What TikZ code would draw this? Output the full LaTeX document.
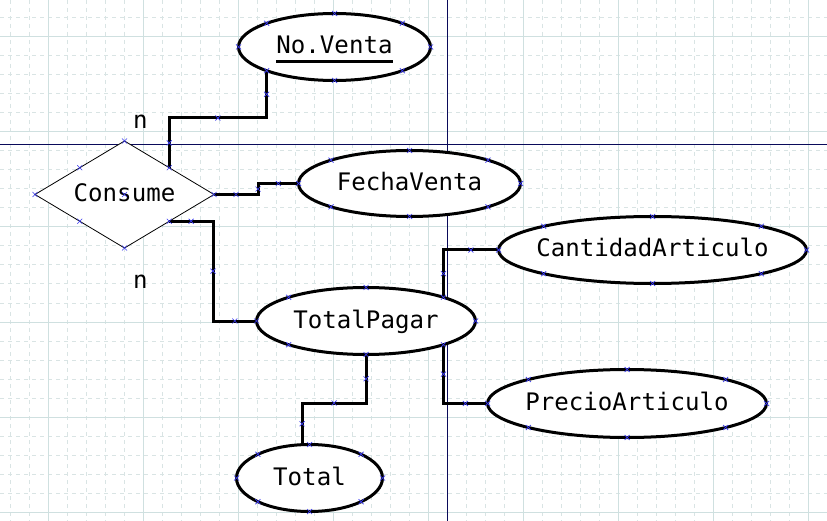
\documentclass[tikz,border=0pt]{standalone}
\usepackage{fontspec}
\setmainfont{DejaVu Sans Mono}
\usetikzlibrary{shapes.geometric,shapes.misc,calc}
\definecolor{gridmaj}{HTML}{CFE0E0}
\definecolor{gridmin}{HTML}{D9E4E4}
\definecolor{axiscol}{HTML}{0A0A5A}
\definecolor{mkblue}{HTML}{3A3AF0}
\newcommand\zw[1]{\makebox[0pt]{#1}}
\newcommand\erfont{\fontsize{24.1}{28}\selectfont}
\tikzset{
  ent/.style={ellipse, draw=black, line width=3pt, fill=white, inner sep=0pt, outer sep=0pt,
    text height=14pt, text depth=0pt, font=\erfont},
  rel/.style={diamond, draw=black, line width=0.8pt, fill=white, inner sep=0pt, outer sep=0pt,
    text height=14pt, text depth=0pt, font=\erfont},
  conn/.style={draw=black, line width=3pt, line join=miter},
  xm/.style={cross out, draw=mkblue, line width=0.7pt, minimum size=5pt, inner sep=0pt, outer sep=0pt},
  lbl/.style={font=\erfont, anchor=base, inner sep=0pt},
  gmin/.style={draw=gridmin, line width=1pt, dash pattern=on 4pt off 4pt},
  gmaj/.style={draw=gridmaj, line width=1pt},
  axis/.style={draw=axiscol, line width=1pt},
}
\begin{document}
\begin{tikzpicture}[x=1pt,y=-1pt]
\useasboundingbox (0,0) rectangle (827,521);
\fill[white] (0,0) rectangle (827,521);
% grid
\foreach \x in {10,29,...,808} \draw[gmin] (\x,0) -- (\x,521);
\foreach \y in {18,37,...,512} \draw[gmin] (0,\y) -- (827,\y);
\foreach \x in {48,143,...,808} \draw[gmaj] (\x,0) -- (\x,521);
\foreach \y in {37,132,...,512} \draw[gmaj] (0,\y) -- (827,\y);
% axes
\draw[axis] (0,145) -- (827,145);
\draw[axis] (447,0) -- (447,521);
% shapes
\node[ent, minimum width=192pt, minimum height=67pt] (nv) at (334.5,47) {\zw{No.Venta}};
\node[ent, minimum width=222pt, minimum height=66pt] (fv) at (409.5,183.5) {\zw{FechaVenta}};
\node[ent, minimum width=308pt, minimum height=67pt] (ca) at (652.5,250) {\zw{CantidadArticulo}};
\node[ent, minimum width=219pt, minimum height=67pt] (tp) at (366,321) {\zw{TotalPagar}};
\node[ent, minimum width=279pt, minimum height=68pt] (pa) at (627,403.5) {\zw{PrecioArticulo}};
\node[ent, minimum width=146pt, minimum height=67pt] (tot) at (309.5,478) {\zw{Total}};
\node[rel, minimum width=179pt, minimum height=107pt] (con) at (124.5,194.5) {\zw{Consume}};
% key underline
\coordinate (ulA) at ($(nv.center)+(-58.5,15)$);
\coordinate (ulB) at ($(nv.center)+(58.5,15)$);
\draw[line width=3pt] (ulA) -- (ulB);
% cardinality labels
\node[lbl] (n1) at (140.5,129) {n};
\node[lbl] (n2) at (140.5,289) {n};
% bend coordinates
\coordinate (jy1) at (0,118);
\coordinate (jx2) at (258,0);
\coordinate (jx3) at (213,0);
\coordinate (jy4) at (0,403);
\coordinate (jx4) at (302,0);
% connectors
\draw[conn] (nv.south west) -- node[xm] (m1a) {} (nv.south west |- jy1)
  -- node[xm] (m1b) {} (con.north east |- jy1) -- node[xm] (m1c) {} (con.north east);
\draw[conn] (con.east) -- node[xm] (m2a) {} (con.east -| jx2)
  -- node[xm] (m2b) {} (fv.west -| jx2) -- node[xm] (m2c) {} (fv.west);
\draw[conn] (con.south east) -- node[xm] (m3a) {} (con.south east -| jx3)
  -- node[xm] (m3b) {} (tp.west -| jx3) -- node[xm] (m3c) {} (tp.west);
\draw[conn] (tp.south) -- node[xm] (m4a) {} (tp.south |- jy4)
  -- node[xm] (m4b) {} (jx4 |- jy4) -- node[xm] (m4c) {} (jx4 |- tot.north);
\draw[conn] (tp.north east) -- node[xm] (m5a) {} (tp.north east |- ca.west)
  -- node[xm] (m5b) {} (ca.west);
\draw[conn] (tp.south east) -- node[xm] (m6a) {} (tp.south east |- pa.west)
  -- node[xm] (m6b) {} (pa.west);
% connection point marks on shapes
\foreach \n in {nv,fv,ca,tp,pa,tot,con}
  \foreach \a [count=\i] in {north,north east,east,south east,south,south west,west,north west}
    \node[xm] (mk\n\i) at (\n.\a) {};
\node[xm] (mkcon0) at (con.center) {};
\end{tikzpicture}
\end{document}
